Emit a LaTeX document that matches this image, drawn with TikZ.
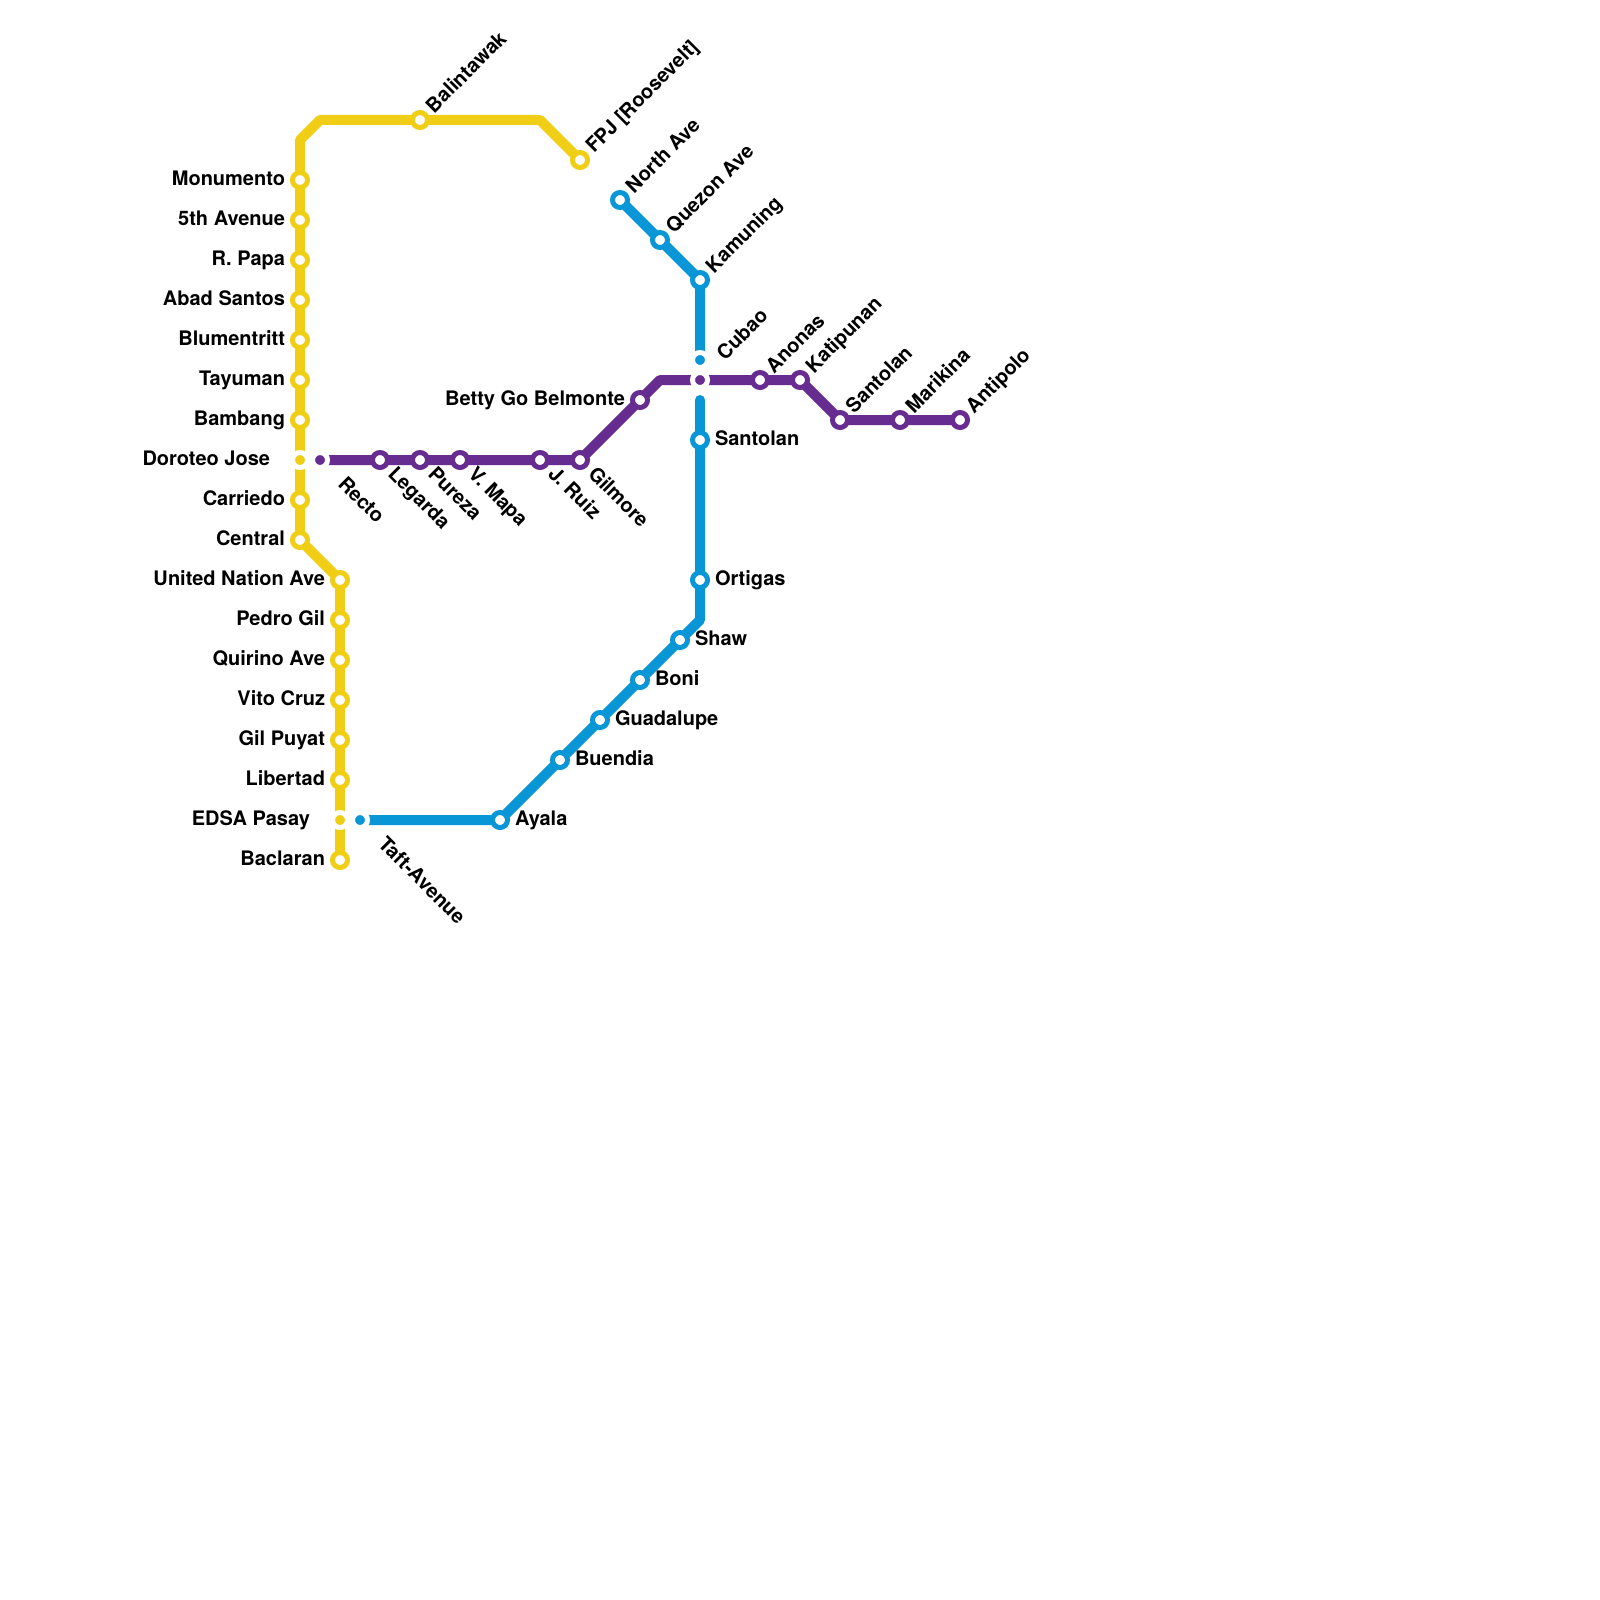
\documentclass[tikz,border=0pt]{standalone}
\usepackage{fontspec}
\setmainfont{TeX Gyre Heros}
\usetikzlibrary{backgrounds}
\definecolor{ylw}{HTML}{F0CE15}
\definecolor{prp}{HTML}{662C90}
\definecolor{blu}{HTML}{0896D7}
\tikzset{x=0.5pt,y=-0.5pt,
 line/.style={line width=5pt,line join=round},
 stn/.style={circle,draw=#1,fill=white,line width=2.5pt,minimum size=7.5pt,inner sep=0pt,outer sep=0pt},
 xch/.style={circle,draw=white,fill=#1,line width=2.5pt,minimum size=7.5pt,inner sep=0pt,outer sep=0pt},
 lbl/.style={font=\bfseries\fontsize{10pt}{12pt}\selectfont,inner sep=0pt,outer sep=0pt,text=black},
 lft/.style={lbl,anchor=base east},
 rgt/.style={lbl,anchor=base west},
 upr/.style={lbl,anchor=base west,rotate=45},
 dwn/.style={lbl,anchor=base west,rotate=-45}}
\begin{document}
\begin{tikzpicture}
\useasboundingbox (0,0) rectangle (1600,1600);
% yellow stations
\node[stn=ylw] (monumento) at (300,180) {};
\node[stn=ylw] (fifth) at (300,220) {};
\node[stn=ylw] (papa) at (300,260) {};
\node[stn=ylw] (abad) at (300,300) {};
\node[stn=ylw] (blument) at (300,340) {};
\node[stn=ylw] (tayuman) at (300,380) {};
\node[stn=ylw] (bambang) at (300,420) {};
\node[xch=ylw] (doroteo) at (300,460) {};
\node[stn=ylw] (carriedo) at (300,500) {};
\node[stn=ylw] (central) at (300,540) {};
\node[stn=ylw] (un) at (340,580) {};
\node[stn=ylw] (pedro) at (340,620) {};
\node[stn=ylw] (quirino) at (340,660) {};
\node[stn=ylw] (vito) at (340,700) {};
\node[stn=ylw] (gil) at (340,740) {};
\node[stn=ylw] (libertad) at (340,780) {};
\node[xch=ylw] (edsa) at (340,820) {};
\node[stn=ylw] (baclaran) at (340,860) {};
\node[stn=ylw] (balintawak) at (420,120) {};
\node[stn=ylw] (fpj) at (580,160) {};
% purple stations
\node[xch=prp] (recto) at (320,460) {};
\node[stn=prp] (legarda) at (380,460) {};
\node[stn=prp] (pureza) at (420,460) {};
\node[stn=prp] (mapa) at (460,460) {};
\node[stn=prp] (ruiz) at (540,460) {};
\node[stn=prp] (gilmore) at (580,460) {};
\node[stn=prp] (betty) at (640,400) {};
\node[xch=prp] (araneta) at (700,380) {};
\node[stn=prp] (anonas) at (760,380) {};
\node[stn=prp] (katipunan) at (800,380) {};
\node[stn=prp] (santolanp) at (840,420) {};
\node[stn=prp] (marikina) at (900,420) {};
\node[stn=prp] (antipolo) at (960,420) {};
% blue stations
\node[stn=blu] (north) at (620,200) {};
\node[stn=blu] (quezon) at (660,240) {};
\node[stn=blu] (kamuning) at (700,280) {};
\node[xch=blu] (cubao) at (700,360) {};
\coordinate (resume) at (700,400);
\node[stn=blu] (santolanb) at (700,440) {};
\node[stn=blu] (ortigas) at (700,580) {};
\node[stn=blu] (shaw) at (680,640) {};
\node[stn=blu] (boni) at (640,680) {};
\node[stn=blu] (guadalupe) at (600,720) {};
\node[stn=blu] (buendia) at (560,760) {};
\node[stn=blu] (ayala) at (500,820) {};
\node[xch=blu] (taft) at (360,820) {};
\begin{scope}[on background layer]
\draw[line,ylw] (fpj.center) -- (540,120) -- (balintawak.center) -- (320,120) -- (300,140) -- (monumento.center) -- (central.center) -- (un.center) -- (baclaran.center);
\draw[line,blu] (north.center) -- (kamuning.center) -- (cubao.center);
\draw[line,blu,line cap=round] (resume) -- (santolanb.center);
\draw[line,blu] (santolanb.center) -- (700,620) -- (ayala.center) -- (taft.center);
\draw[line,prp] (recto.center) -- (gilmore.center) -- (betty.center) -- (660,380) -- (katipunan.center) -- (santolanp.center) -- (antipolo.center);
\end{scope}
% labels
\foreach \n/\t in {monumento/Monumento,fifth/5th Avenue,papa/R. Papa,abad/Abad Santos,blument/Blumentritt,tayuman/Tayuman,bambang/Bambang,carriedo/Carriedo,central/Central,un/United Nation Ave,pedro/Pedro Gil,quirino/Quirino Ave,vito/Vito Cruz,gil/Gil Puyat,libertad/Libertad,baclaran/Baclaran}
 \path (\n) ++(-15,5) node[lft] (\n-l) {\t};
\path (doroteo) ++(-30,5) node[lft] (doroteo-l) {Doroteo Jose};
\path (edsa) ++(-30,5) node[lft] (edsa-l) {EDSA Pasay};
\path (betty) ++(-15,5) node[lft] (betty-l) {Betty Go Belmonte};
\foreach \n/\t in {santolanb/Santolan,ortigas/Ortigas,shaw/Shaw,boni/Boni,guadalupe/Guadalupe,buendia/Buendia,ayala/Ayala}
 \path (\n) ++(15,5) node[rgt] (\n-l) {\t};
\foreach \n/\t in {balintawak/Balintawak,fpj/FPJ [Roosevelt],north/North Ave,quezon/Quezon Ave,kamuning/Kamuning,anonas/Anonas,katipunan/Katipunan,santolanp/Santolan,marikina/Marikina,antipolo/Antipolo}
 \path (\n) ++(14,-6) node[upr] (\n-l) {\t};
\path (cubao) ++(25,1) node[upr] (cubao-l) {Cubao};
\foreach \n/\t in {legarda/Legarda,pureza/Pureza,mapa/V. Mapa,ruiz/J. Ruiz,gilmore/Gilmore}
 \path (\n) ++(7,15) node[dwn] (\n-l) {\t};
\path (recto) ++(17,25) node[dwn] (recto-l) {Recto};
\path (taft) ++(17,25) node[dwn] (taft-l) {Taft-Avenue};
\end{tikzpicture}
\end{document}
